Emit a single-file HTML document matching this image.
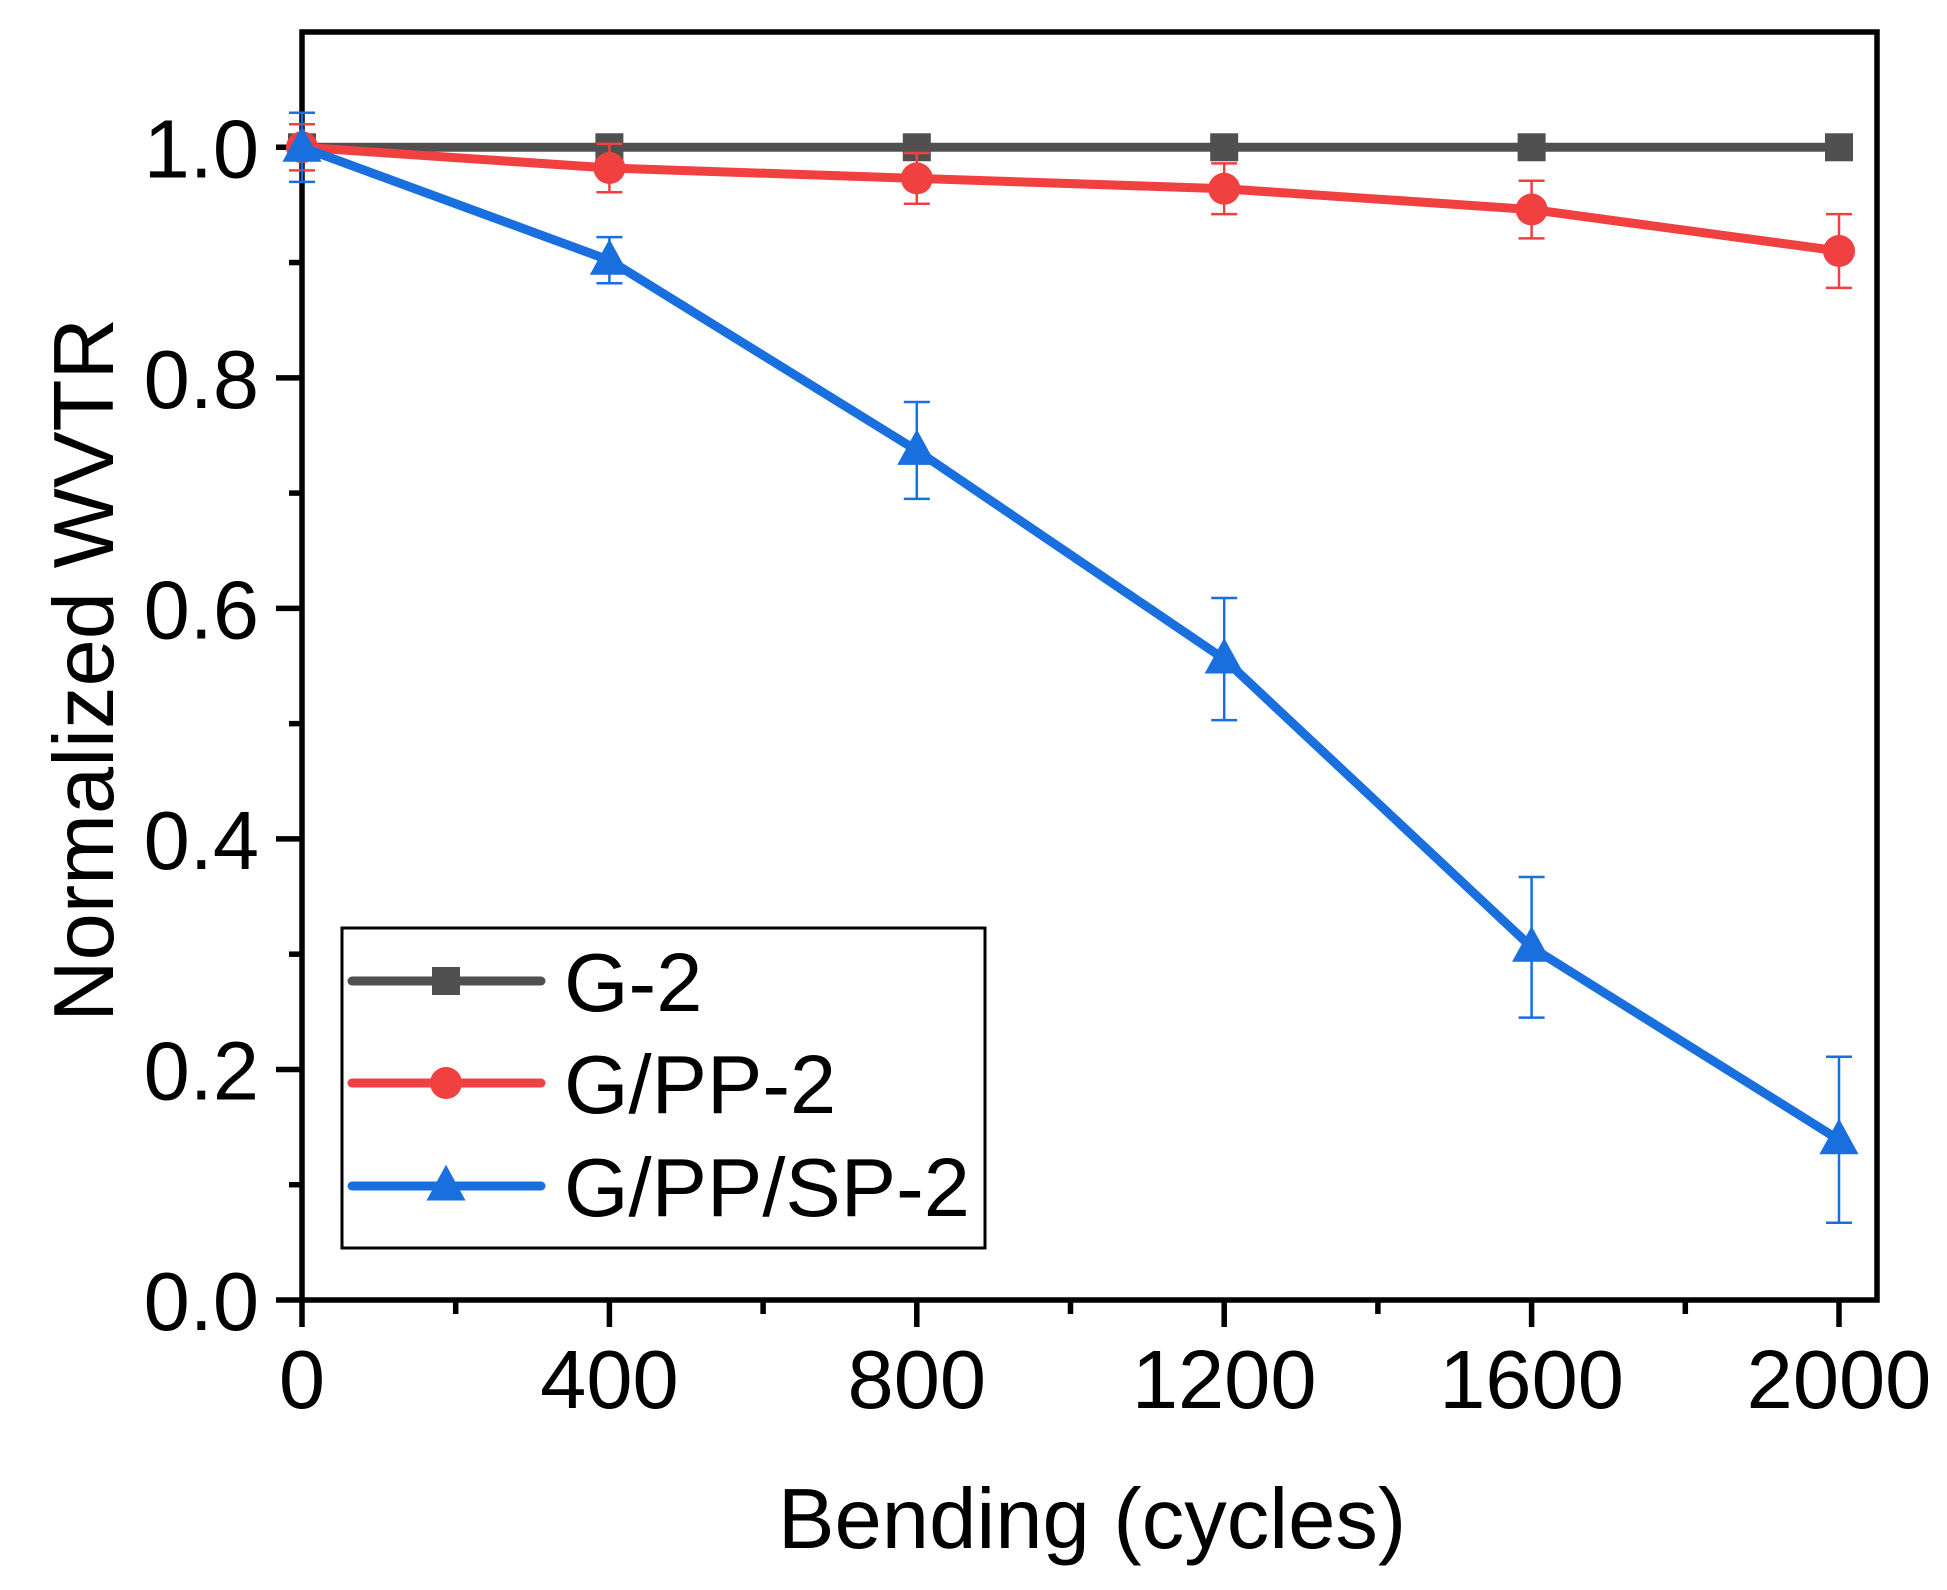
<!DOCTYPE html>
<html><head><meta charset="utf-8"><style>
html,body{margin:0;padding:0;background:#fff;}
svg{display:block;font-family:"Liberation Sans",Arial,sans-serif;}
</style></head><body>
<svg id="chart" width="1947" height="1590" viewBox="0 0 1947 1590">
<g id="axes"></g>
<g id="series"></g>
<g id="legend"></g>
</svg>
<script>
const categories = [0, 400, 800, 1200, 1600, 2000];
const g2Values = [1.0, 1.0, 1.0, 1.0, 1.0, 1.0];
const g2Errors = [0.0, 0.0, 0.0, 0.0, 0.0, 0.0];
const gpp2Values = [1.0, 0.982, 0.973, 0.964, 0.946, 0.910];
const gpp2Errors = [0.02, 0.021, 0.022, 0.022, 0.025, 0.032];
const gppsp2Values = [1.0, 0.902, 0.737, 0.556, 0.306, 0.139];
const gppsp2Errors = [0.03, 0.02, 0.042, 0.053, 0.061, 0.072];
const xTickLabels = ["0", "400", "800", "1200", "1600", "2000"];
const yTickLabels = ["0.0", "0.2", "0.4", "0.6", "0.8", "1.0"];
const seriesNames = ["G-2", "G/PP-2", "G/PP/SP-2"];

const NS = "http://www.w3.org/2000/svg";
const L = 302, R = 1877, T = 32, B = 1300;
const xMin = 0, xMax = 2000 * (R - L) / (1839 - L);
const yMin = 0, yMax = 1.1;
function xs(v){ return L + (v - xMin) / (xMax - xMin) * (R - L); }
function ys(v){ return B - (v - yMin) / (yMax - yMin) * (B - T); }
function mk(tag, attrs, parent){
  const e = document.createElementNS(NS, tag);
  for (const k in attrs) e.setAttribute(k, attrs[k]);
  parent.appendChild(e);
  return e;
}
const axes = document.getElementById('axes');
const ser = document.getElementById('series');
const leg = document.getElementById('legend');

const frame = mk('rect', {x:L, y:T, width:R-L, height:B-T, fill:'none', stroke:'#000', 'stroke-width':5.5}, axes);



for (let v = 0; v <= 2000; v += 200) {
  const major = v % 400 === 0;
  const t = mk('line', {x1:xs(v), x2:xs(v), y1:B, y2:B + (major ? 27 : 14), stroke:'#000', 'stroke-width':5.5}, axes);
  
  
}
categories.forEach((c, i) => {
  const t = mk('text', {x:xs(c), y:1408, 'font-size':83, 'text-anchor':'middle', fill:'#000'}, axes);
  t.textContent = xTickLabels[i];
  
  
});
for (let k = 0; k <= 10; k++) {
  const v = k / 10;
  const major = k % 2 === 0;
  const t = mk('line', {x1:L - (major ? 26 : 13), x2:L, y1:ys(v), y2:ys(v), stroke:'#000', 'stroke-width':5.5}, axes);
  
  
}
yTickLabels.forEach((lab) => {
  const t = mk('text', {x:259, y:ys(parseFloat(lab)) + 30, 'font-size':83, 'text-anchor':'end', fill:'#000'}, axes);
  t.textContent = lab;
  
  
});
const xt = mk('text', {x:1092, y:1548, 'font-size':85, 'text-anchor':'middle', fill:'#000'}, axes);
xt.textContent = 'Bending (cycles)';


const yt = mk('text', {x:0, y:0, 'font-size':85, 'text-anchor':'middle', fill:'#000', transform:'translate(113,670) rotate(-90)'}, axes);
yt.textContent = 'Normalized WVTR';



function marker(shape, cx, cy, color, parent, s){
  let m;
  if (shape === 'square') m = mk('rect', {x:cx - s, y:cy - s, width:2*s, height:2*s, fill:color}, parent);
  else if (shape === 'circle') m = mk('ellipse', {cx:cx, cy:cy, rx:s, ry:s, fill:color}, parent);
  else m = mk('polygon', {points:`${cx},${cy - s*1.25} ${cx - s*1.15},${cy + s*0.85} ${cx + s*1.15},${cy + s*0.85}`, fill:color}, parent);
  return m;
}

const allSeries = [
  {name:'g-2', vals:g2Values, errs:g2Errors, color:'#505050', shape:'square', size:14},
  {name:'g-pp-2', vals:gpp2Values, errs:gpp2Errors, color:'#f04040', shape:'circle', size:16},
  {name:'g-pp-sp-2', vals:gppsp2Values, errs:gppsp2Errors, color:'#1a6fde', shape:'triangle', size:17}
];
allSeries.forEach((s) => {
  const g = mk('g', {}, ser);
  
  
  const pts = categories.map((c, i) => xs(c) + ',' + ys(s.vals[i])).join(' ');
  const line = mk('polyline', {points:pts, fill:'none', stroke:s.color, 'stroke-width':9, 'stroke-linejoin':'round'}, g);
  
  
  categories.forEach((c, i) => {
    if (s.errs[i] > 0) {
      const x = xs(c), y1 = ys(s.vals[i] + s.errs[i]), y2 = ys(s.vals[i] - s.errs[i]);
      const eb = mk('path', {d:`M${x},${y1}V${y2}M${x-13},${y1}H${x+13}M${x-13},${y2}H${x+13}`, stroke:s.color, 'stroke-width':2.5, fill:'none'}, g);
      
      
    }
    const m = marker(s.shape, xs(c), ys(s.vals[i]), s.color, g, s.size);
    
    
  });
});

const lbox = mk('rect', {x:342, y:928, width:643, height:320, fill:'#fff', stroke:'#000', 'stroke-width':3}, leg);


const rowY = [981, 1083, 1186];
allSeries.forEach((s, i) => {
  const g = mk('g', {}, leg);
  
  
  mk('line', {x1:352, x2:541, y1:rowY[i], y2:rowY[i], stroke:s.color, 'stroke-width':9, 'stroke-linecap':'round'}, g);
  marker(s.shape, 446, rowY[i], s.color, g, s.size);
  const t = mk('text', {x:564, y:rowY[i] + 30, 'font-size':83, fill:'#000'}, g);
  t.textContent = seriesNames[i];
});
</script>
</body></html>
